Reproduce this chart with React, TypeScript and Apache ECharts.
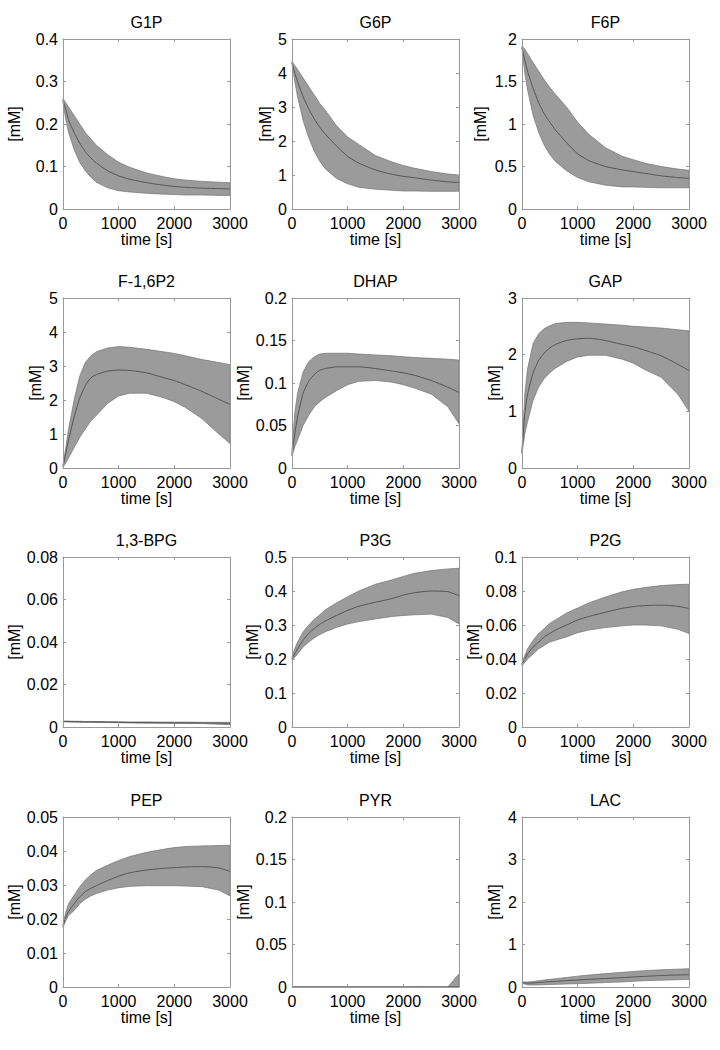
import React, { useEffect, useRef } from "react";
import * as echarts from "echarts";

// shared time grid (s)
const T = [0, 50, 100, 200, 300, 400, 500, 600, 800, 1000, 1200, 1500, 1800, 2000, 2200, 2500, 2800, 3000];
const PYR_T = [0, 1000, 2000, 2800, 2850, 2900, 2950, 3000];

const names = ["G1P", "G6P", "F6P", "F-1,6P2", "DHAP", "GAP", "1,3-BPG", "P3G", "P2G", "PEP", "PYR", "LAC"];
const yMax = [0.4, 5, 2, 5, 0.2, 3, 0.08, 0.5, 0.1, 0.05, 0.2, 4];
const yStep = [0.1, 1, 0.5, 1, 0.05, 1, 0.02, 0.1, 0.02, 0.01, 0.05, 1];

const g1pUpper = [0.26, 0.25, 0.24, 0.22, 0.2, 0.18, 0.165, 0.15, 0.128, 0.11, 0.098, 0.085, 0.076, 0.071, 0.068, 0.065, 0.063, 0.062];
const g1pMean = [0.255, 0.235, 0.21, 0.18, 0.155, 0.135, 0.12, 0.108, 0.09, 0.078, 0.07, 0.062, 0.056, 0.053, 0.051, 0.049, 0.048, 0.047];
const g1pLower = [0.25, 0.21, 0.18, 0.14, 0.11, 0.09, 0.075, 0.063, 0.05, 0.043, 0.04, 0.037, 0.035, 0.034, 0.033, 0.033, 0.032, 0.032];

const g6pUpper = [4.34, 4.22, 4.1, 3.85, 3.6, 3.35, 3.1, 2.9, 2.45, 2.12, 1.9, 1.57, 1.38, 1.28, 1.2, 1.1, 1.03, 1.0];
const g6pMean = [4.3, 4.0, 3.75, 3.3, 2.95, 2.65, 2.4, 2.2, 1.85, 1.55, 1.35, 1.15, 1.02, 0.96, 0.92, 0.85, 0.8, 0.78];
const g6pLower = [4.25, 3.75, 3.3, 2.6, 2.1, 1.7, 1.4, 1.18, 0.9, 0.74, 0.64, 0.58, 0.55, 0.53, 0.53, 0.52, 0.52, 0.52];

const f6pUpper = [1.92, 1.88, 1.83, 1.72, 1.62, 1.52, 1.43, 1.35, 1.2, 1.02, 0.88, 0.72, 0.62, 0.58, 0.54, 0.5, 0.47, 0.455];
const f6pMean = [1.9, 1.75, 1.62, 1.42, 1.25, 1.12, 1.02, 0.93, 0.78, 0.65, 0.57, 0.5, 0.46, 0.44, 0.42, 0.39, 0.37, 0.36];
const f6pLower = [1.88, 1.6, 1.4, 1.1, 0.9, 0.75, 0.64, 0.56, 0.45, 0.37, 0.32, 0.28, 0.26, 0.26, 0.255, 0.25, 0.25, 0.25];

const fbpUpper = [0.1, 0.6, 1.15, 2.0, 2.7, 3.1, 3.3, 3.42, 3.53, 3.57, 3.55, 3.49, 3.42, 3.37, 3.3, 3.19, 3.1, 3.04];
const fbpMean = [0.05, 0.42, 0.82, 1.5, 2.05, 2.42, 2.65, 2.75, 2.85, 2.88, 2.87, 2.8, 2.66, 2.57, 2.45, 2.25, 2.02, 1.87];
const fbpLower = [0.03, 0.15, 0.3, 0.6, 0.9, 1.15, 1.38, 1.55, 1.9, 2.12, 2.2, 2.2, 2.07, 1.95, 1.78, 1.45, 1.0, 0.72];

const dhapUpper = [0.02, 0.065, 0.088, 0.113, 0.125, 0.131, 0.134, 0.135, 0.135, 0.135, 0.134, 0.133, 0.132, 0.131, 0.13, 0.129, 0.128, 0.127];
const dhapMean = [0.015, 0.04, 0.06, 0.088, 0.102, 0.11, 0.115, 0.117, 0.119, 0.119, 0.119, 0.117, 0.114, 0.112, 0.109, 0.103, 0.095, 0.089];
const dhapLower = [0.014, 0.025, 0.033, 0.05, 0.062, 0.072, 0.078, 0.083, 0.091, 0.098, 0.102, 0.103, 0.101, 0.098, 0.094, 0.087, 0.072, 0.052];

const gapUpper = [0.35, 1.3, 1.75, 2.2, 2.37, 2.46, 2.51, 2.55, 2.57, 2.57, 2.56, 2.54, 2.52, 2.5, 2.49, 2.47, 2.44, 2.42];
const gapMean = [0.28, 0.95, 1.3, 1.68, 1.9, 2.03, 2.12, 2.18, 2.25, 2.28, 2.29, 2.25, 2.18, 2.14, 2.08, 1.98, 1.83, 1.72];
const gapLower = [0.25, 0.6, 0.82, 1.2, 1.43, 1.58, 1.68, 1.76, 1.88, 1.96, 1.99, 1.99, 1.92, 1.85, 1.74, 1.6, 1.3, 1.0];

const bpgUpper = [0.0028, 0.0028, 0.0028, 0.0027, 0.0027, 0.0026, 0.0026, 0.0026, 0.0025, 0.0025, 0.0024, 0.0024, 0.0023, 0.0023, 0.0023, 0.0022, 0.0022, 0.0022];
const bpgMean = [0.0026, 0.0026, 0.0026, 0.0025, 0.0025, 0.0024, 0.0024, 0.0024, 0.0023, 0.0022, 0.0021, 0.0021, 0.002, 0.002, 0.0019, 0.0019, 0.0018, 0.0017];
const bpgLower = [0.0024, 0.0024, 0.0023, 0.0023, 0.0022, 0.0022, 0.0022, 0.0021, 0.0021, 0.002, 0.0019, 0.0018, 0.0018, 0.0017, 0.0017, 0.0016, 0.0013, 0.0011];

const p3gUpper = [0.205, 0.23, 0.25, 0.28, 0.3, 0.317, 0.33, 0.345, 0.365, 0.383, 0.4, 0.42, 0.433, 0.443, 0.452, 0.46, 0.465, 0.467];
const p3gMean = [0.2, 0.215, 0.23, 0.255, 0.275, 0.29, 0.302, 0.312, 0.328, 0.343, 0.355, 0.367, 0.378, 0.388, 0.395, 0.4, 0.398, 0.386];
const p3gLower = [0.198, 0.205, 0.215, 0.235, 0.25, 0.262, 0.272, 0.28, 0.293, 0.303, 0.31, 0.318, 0.325, 0.328, 0.33, 0.332, 0.322, 0.303];

const p2gUpper = [0.038, 0.042, 0.046, 0.051, 0.055, 0.058, 0.061, 0.063, 0.067, 0.07, 0.073, 0.0765, 0.0795, 0.081, 0.082, 0.0832, 0.0838, 0.084];
const p2gMean = [0.037, 0.04, 0.043, 0.047, 0.05, 0.053, 0.055, 0.057, 0.06, 0.063, 0.065, 0.0675, 0.0698, 0.0708, 0.0714, 0.0717, 0.071, 0.0697];
const p2gLower = [0.036, 0.038, 0.04, 0.043, 0.046, 0.048, 0.05, 0.051, 0.053, 0.0555, 0.057, 0.0585, 0.0595, 0.06, 0.06, 0.0595, 0.0575, 0.055];

const pepUpper = [0.0185, 0.022, 0.0245, 0.027, 0.0295, 0.0315, 0.033, 0.0343, 0.0358, 0.0372, 0.0384, 0.0396, 0.0405, 0.041, 0.0413, 0.0415, 0.0416, 0.0417];
const pepMean = [0.018, 0.0205, 0.0222, 0.0245, 0.0265, 0.028, 0.029, 0.0298, 0.0313, 0.0326, 0.0336, 0.0344, 0.0349, 0.0351, 0.0353, 0.0354, 0.035, 0.034];
const pepLower = [0.0175, 0.0195, 0.021, 0.0225, 0.0245, 0.0258, 0.0268, 0.0275, 0.0285, 0.0292, 0.0296, 0.0298, 0.0298, 0.0298, 0.0297, 0.0295, 0.0285, 0.0268];

const pyrUpper = [0, 0, 0, 0, 0.004, 0.008, 0.012, 0.015];
const pyrMean = [0, 0, 0, 0, 0, 0, 0, 0];
const pyrLower = [0, 0, 0, 0, 0, 0, 0, 0];

const lacUpper = [0.12, 0.12, 0.12, 0.13, 0.15, 0.165, 0.18, 0.195, 0.225, 0.255, 0.28, 0.315, 0.345, 0.365, 0.385, 0.405, 0.42, 0.43];
const lacMean = [0.1, 0.095, 0.09, 0.095, 0.105, 0.115, 0.125, 0.132, 0.15, 0.165, 0.18, 0.2, 0.22, 0.235, 0.25, 0.27, 0.283, 0.29];
const lacLower = [0.09, 0.07, 0.05, 0.045, 0.05, 0.053, 0.057, 0.062, 0.07, 0.078, 0.088, 0.105, 0.12, 0.135, 0.148, 0.16, 0.172, 0.18];

const times = [T, T, T, T, T, T, T, T, T, T, PYR_T, T];
const uppers = [g1pUpper, g6pUpper, f6pUpper, fbpUpper, dhapUpper, gapUpper, bpgUpper, p3gUpper, p2gUpper, pepUpper, pyrUpper, lacUpper];
const means = [g1pMean, g6pMean, f6pMean, fbpMean, dhapMean, gapMean, bpgMean, p3gMean, p2gMean, pepMean, pyrMean, lacMean];
const lowers = [g1pLower, g6pLower, f6pLower, fbpLower, dhapLower, gapLower, bpgLower, p3gLower, p2gLower, pepLower, pyrLower, lacLower];

// layout
const colLeft = [63, 292, 522];
const rowTop = [39, 298, 557, 817];
const plotW = 167;
const plotH = 170;
const yNameGap = [41, 19, 34, 20, 41, 20, 41, 31, 41, 41, 41, 20];

const FONT = "Liberation Sans, Arial, Helvetica, sans-serif";
const FS = 16;
const AXIS_COLOR = "#9a9a9a";
const BAND_FILL = "#9b9b9b";
const BAND_EDGE = "#737373";
const MEAN_COLOR = "#555555";

function fmt(v: number) {
  return String(parseFloat(v.toFixed(6)));
}

function buildOption() {
  const grid: any[] = [];
  const xAxis: any[] = [];
  const yAxis: any[] = [];
  const series: any[] = [];
  const txt = { color: "#000", fontSize: FS, fontFamily: FONT };
  names.forEach((name, i) => {
    const r = Math.floor(i / 3);
    const c = i % 3;
    grid.push({ left: colLeft[c], top: rowTop[r], width: plotW, height: plotH, containLabel: false });
    const tick = { show: true, inside: true, length: 3, lineStyle: { color: AXIS_COLOR, width: 1 } };
    const line = { show: true, onZero: false, lineStyle: { color: AXIS_COLOR, width: 1 } };
    xAxis.push({
      type: "value", gridIndex: i, min: 0, max: 3000, interval: 1000, position: "bottom",
      axisLine: line, axisTick: tick, splitLine: { show: false },
      axisLabel: { ...txt, margin: 6, formatter: fmt },
      name: "time [s]", nameLocation: "middle", nameGap: 19,
      nameTextStyle: txt,
      z: 5,
    });
    xAxis.push({
      type: "value", gridIndex: i, min: 0, max: 3000, interval: 1000, position: "top",
      axisLine: line, axisTick: tick, splitLine: { show: false }, axisLabel: { show: false },
      name: name, nameLocation: "middle", nameGap: 9,
      nameTextStyle: txt,
      z: 5,
    });
    yAxis.push({
      type: "value", gridIndex: i, min: 0, max: yMax[i], interval: yStep[i], position: "left",
      axisLine: line, axisTick: tick, splitLine: { show: false },
      axisLabel: { ...txt, margin: 5, formatter: fmt },
      name: "[mM]", nameLocation: "middle", nameGap: yNameGap[i], nameRotate: 90,
      nameTextStyle: txt,
      z: 5,
    });
    yAxis.push({
      type: "value", gridIndex: i, min: 0, max: yMax[i], interval: yStep[i], position: "right",
      axisLine: line, axisTick: tick, splitLine: { show: false }, axisLabel: { show: false },
      z: 5,
    });
    const t = times[i];
    const up = uppers[i];
    const lo = lowers[i];
    const mu = means[i];
    series.push({
      type: "custom",
      xAxisIndex: 2 * i,
      yAxisIndex: 2 * i,
      data: [[t[0], lo[0]]],
      silent: true,
      z: 2,
      renderItem: (params: any, api: any) => {
        const pts: number[][] = [];
        for (let k = 0; k < t.length; k++) pts.push(api.coord([t[k], up[k]]));
        for (let k = t.length - 1; k >= 0; k--) pts.push(api.coord([t[k], lo[k]]));
        return {
          type: "polygon",
          shape: { points: pts },
          style: { fill: BAND_FILL, stroke: BAND_EDGE, lineWidth: 0.7 },
        };
      },
    });
    series.push({
      type: "line",
      xAxisIndex: 2 * i,
      yAxisIndex: 2 * i,
      data: t.map((tt, k) => [tt, mu[k]]),
      symbol: "none",
      showSymbol: false,
      silent: true,
      smooth: 0.2,
      z: 3,
      lineStyle: { color: MEAN_COLOR, width: 1 },
    });
  });
  return {
    animation: false,
    backgroundColor: "#ffffff",
    grid,
    xAxis,
    yAxis,
    series,
  };
}

export default function App() {
  const ref = useRef<HTMLDivElement>(null);
  useEffect(() => {
    if (!ref.current) return;
    const chart = echarts.init(ref.current, undefined, { renderer: "svg" });
    chart.setOption(buildOption() as any);
    return () => chart.dispose();
  }, []);
  return (
    <div
      ref={ref}
      style={{ position: "absolute", left: 0, top: 0, width: 720, height: 1050, background: "#fff" }}
    />
  );
}
